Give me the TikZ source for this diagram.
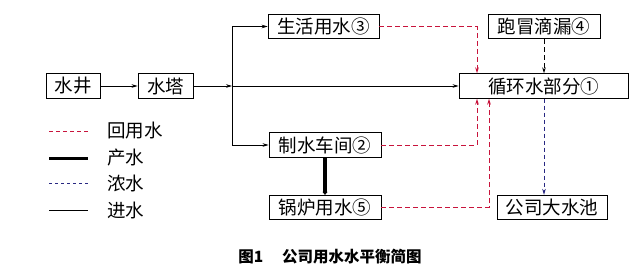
\documentclass[tikz,border=0pt]{standalone}
\usepackage{fontspec}
\setmainfont{Noto Sans CJK SC}
\usetikzlibrary{arrows.meta}
\definecolor{reuse}{RGB}{200,20,60}
\definecolor{conc}{RGB}{40,40,130}
\tikzset{
  box/.style={draw, line width=0.8pt, inner sep=0pt, minimum height=24.5pt, font=\fontsize{18.5}{20}\selectfont},
  tip/.style={-{Stealth[length=6pt,width=3.6pt]}},
  feed/.style={line width=0.8pt},
  reusel/.style={draw=reuse, line width=1pt, dash pattern=on 5pt off 3pt},
  concl/.style={draw=conc, line width=0.9pt, dash pattern=on 4pt off 3pt},
  leakl/.style={draw=black, line width=0.9pt, dash pattern=on 5pt off 3pt},
  prod/.style={line width=3.8pt},
  legtxt/.style={anchor=west, inner sep=0pt, font=\fontsize{18.5}{20}\selectfont},
}
\begin{document}
\begin{tikzpicture}[x=1pt,y=-1pt]
\useasboundingbox (0,0) rectangle (637,278);
% boxes
\node[box, minimum width=54pt]  (well)  at (73,86) {水井};
\node[box, minimum width=55pt]  (tower) at (165.5,86) {水塔};
\node[box, minimum width=111pt] (live)  at (323.5,26.5) {生活用水③};
\node[box, minimum width=112pt] (leak)  at (544,26.5) {跑冒滴漏④};
\node[box, minimum width=169pt] (circ)  at (543.5,86) {循环水部分①};
\node[box, minimum width=112pt] (make)  at (325,145) {制水车间②};
\node[box, minimum width=112pt] (boil)  at (325,207.5) {锅炉用水⑤};
\node[box, minimum width=110pt] (pool)  at (552,207.5) {公司大水池};
% junction coordinates
\coordinate (j)  at (232,86);
\coordinate (jt) at (232,26.5);
\coordinate (jb) at (232,145);
% feed water
\draw[feed,tip] (well) -- (tower);
\draw[feed,tip] (tower) -- (j);
\draw[feed,tip] (j) -- (circ.west);
\draw[feed] (jt) -- (jb);
\draw[feed,tip] (jt) -- (live.west);
\draw[feed,tip] (jb) -- (make.west);
% product water
\draw[prod,-{Triangle[length=3pt,width=5pt]}] (make.south) -- (boil.north);
% reuse
\coordinate (r1) at (477,26.5);
\coordinate (r2) at (477,145);
\coordinate (r3) at (489,207.5);
\draw[reusel,tip] (live.east) -- (r1) -- (r1 |- circ.north);
\draw[reusel,tip] (make.east) -- (r2) -- (r2 |- circ.south);
\draw[reusel,tip] (boil.east) -- (r3) -- (r3 |- circ.south);
% leakage and concentrate
\coordinate (cs) at (circ.south -| leak.south);
\draw[leakl,tip] (leak.south) -- (leak.south |- circ.north);
\draw[concl,tip] (cs) -- (cs |- pool.north);
% legend
\coordinate (la1) at (49,131); \coordinate (lb1) at (88,131);
\coordinate (la2) at (49,158); \coordinate (lb2) at (88,158);
\coordinate (la3) at (49,183); \coordinate (lb3) at (88,183);
\coordinate (la4) at (49,210); \coordinate (lb4) at (88,210);
\draw[draw=reuse, line width=0.9pt, dash pattern=on 4pt off 3pt] (la1) -- (lb1);
\draw[line width=3pt] (la2) -- (lb2);
\draw[draw=conc, line width=0.8pt, dash pattern=on 3pt off 3pt] (la3) -- (lb3);
\draw[line width=0.8pt] (la4) -- (lb4);
\node[legtxt] (t1) at (107,131) {回用水};
\node[legtxt] (t2) at (107,158) {产水};
\node[legtxt] (t3) at (107,183) {浓水};
\node[legtxt] (t4) at (107,210) {进水};
% caption
\node[inner sep=0pt, font=\fontsize{15.5}{17}\selectfont\bfseries] (cap) at (330,257) {图1\hspace{1.2em}公司用水水平衡简图};
\end{tikzpicture}
\end{document}
